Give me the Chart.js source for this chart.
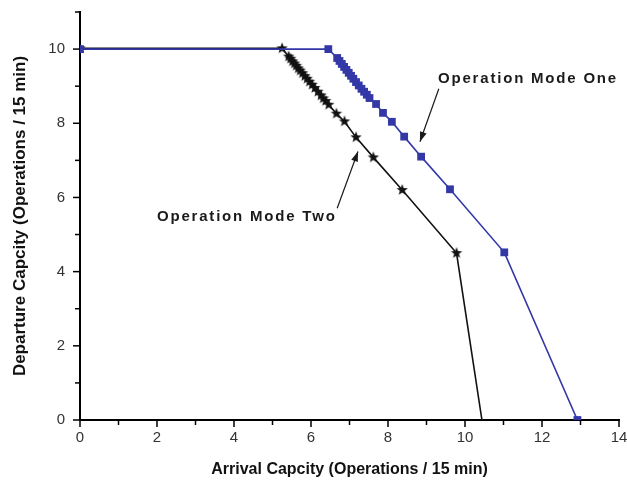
<!DOCTYPE html>
<html>
<head>
<meta charset="utf-8">
<script src="https://cdn.jsdelivr.net/npm/chart.js@4/dist/chart.umd.min.js"></script>
<style>
  html, body { margin: 0; padding: 0; background: #fff; }
  #wrap { width: 627px; height: 484px; }
</style>
</head>
<body>
<div id="wrap"><canvas id="chart-area" width="627" height="484"></canvas></div>
<script>
// Operation Mode One (blue squares)
var modeOneX = [0, 6.45, 6.68, 6.74, 6.80, 6.86, 6.92, 6.98, 7.04, 7.10, 7.17, 7.24, 7.31, 7.38, 7.45, 7.52, 7.69, 7.87, 8.10, 8.42, 8.86, 9.61, 11.02, 12.92];
var modeOneY = [10, 10, 9.76, 9.68, 9.60, 9.52, 9.44, 9.36, 9.28, 9.20, 9.11, 9.02, 8.93, 8.85, 8.77, 8.68, 8.52, 8.28, 8.04, 7.64, 7.10, 6.22, 4.52, 0];

// Operation Mode Two (black stars)
var modeTwoX = [0, 5.25, 5.42, 5.47, 5.52, 5.57, 5.62, 5.67, 5.72, 5.78, 5.84, 5.90, 5.96, 6.03, 6.10, 6.18, 6.26, 6.32, 6.38, 6.46, 6.66, 6.87, 7.17, 7.62, 8.37, 9.78, 10.44];
var modeTwoY = [10.02, 10.02, 9.80, 9.74, 9.67, 9.61, 9.55, 9.48, 9.42, 9.35, 9.27, 9.20, 9.12, 9.04, 8.95, 8.85, 8.75, 8.67, 8.60, 8.50, 8.26, 8.05, 7.62, 7.08, 6.20, 4.50, 0];

var xTickLabels = [0, 2, 4, 6, 8, 10, 12, 14];
var yTickLabels = [0, 2, 4, 6, 8, 10];

// callouts: [text, textX, textY, arrowFromX, arrowFromY, arrowToX, arrowToY]
var callouts = [
  ['Operation Mode One', 9.3, 9.2, 9.32, 8.93, 8.83, 7.50],
  ['Operation Mode Two', 2.0, 5.47, 6.68, 5.71, 7.22, 7.24]
];

function pts(xs, ys) {
  return xs.map(function (x, i) { return { x: x, y: ys[i] }; });
}

// filled five point star for the marker
function makeStar(r, color) {
  var c = document.createElement('canvas');
  var s = Math.ceil(r * 2 + 2);
  c.width = s; c.height = s;
  var g = c.getContext('2d');
  g.fillStyle = color;
  g.beginPath();
  for (var i = 0; i < 10; i++) {
    var rad = i % 2 === 0 ? r : r * 0.42;
    var a = -Math.PI / 2 + i * Math.PI / 5;
    var px = s / 2 + rad * Math.cos(a), py = s / 2 + rad * Math.sin(a);
    if (i === 0) g.moveTo(px, py); else g.lineTo(px, py);
  }
  g.closePath();
  g.fill();
  return c;
}
var star = makeStar(6, '#111');

var tickMarks = {
  id: 'tickMarks',
  afterDraw: function (chart) {
    var ctx = chart.ctx, xs = chart.scales.x, ys = chart.scales.y;
    var ca = chart.chartArea;
    ctx.save();
    ctx.strokeStyle = '#000';
    ctx.lineWidth = 1.5;
    for (var v = 0; v <= 14; v++) {
      var px = xs.getPixelForValue(v);
      var len = v % 2 === 0 ? 7 : 5;
      ctx.beginPath(); ctx.moveTo(px, ca.bottom); ctx.lineTo(px, ca.bottom + len); ctx.stroke();
    }
    for (var w = 0; w <= 11; w++) {
      var py = ys.getPixelForValue(w);
      var ln = w % 2 === 0 ? 7 : 5;
      ctx.beginPath(); ctx.moveTo(ca.left, py); ctx.lineTo(ca.left - ln, py); ctx.stroke();
    }

    // callouts
    ctx.fillStyle = '#1a1a1a';
    ctx.strokeStyle = '#1a1a1a';
    ctx.font = 'bold 15px "Liberation Sans", Arial, sans-serif';
    ctx.letterSpacing = '1.8px';
    ctx.textBaseline = 'middle';
    callouts.forEach(function (c) {
      ctx.fillText(c[0], xs.getPixelForValue(c[1]), ys.getPixelForValue(c[2]));
      var x1 = xs.getPixelForValue(c[3]), y1 = ys.getPixelForValue(c[4]);
      var x2 = xs.getPixelForValue(c[5]), y2 = ys.getPixelForValue(c[6]);
      ctx.lineWidth = 1.2;
      ctx.beginPath(); ctx.moveTo(x1, y1); ctx.lineTo(x2, y2); ctx.stroke();
      var a = Math.atan2(y2 - y1, x2 - x1), hl = 10, hw = 3.5;
      ctx.beginPath();
      ctx.moveTo(x2, y2);
      ctx.lineTo(x2 - hl * Math.cos(a) + hw * Math.sin(a), y2 - hl * Math.sin(a) - hw * Math.cos(a));
      ctx.lineTo(x2 - hl * Math.cos(a) - hw * Math.sin(a), y2 - hl * Math.sin(a) + hw * Math.cos(a));
      ctx.closePath();
      ctx.fill();
    });
    ctx.restore();
  }
};

var twoRadius = modeTwoX.map(function (v, i) { return i === modeTwoX.length - 1 ? 0 : 5; });

var config = {
  type: 'line',
  data: {
    datasets: [{
      label: 'Operation Mode One',
      data: pts(modeOneX, modeOneY),
      borderColor: '#3338a6',
      backgroundColor: '#3338a6',
      borderWidth: 1.6,
      pointStyle: 'rect',
      pointRadius: 5.5,
      pointBorderWidth: 0,
      tension: 0
    }, {
      label: 'Operation Mode Two',
      data: pts(modeTwoX, modeTwoY),
      borderColor: '#111',
      backgroundColor: '#111',
      borderWidth: 1.6,
      pointStyle: star,
      pointRadius: twoRadius,
      tension: 0
    }]
  },
  options: {
    responsive: false,
    animation: false,
    layout: { padding: { left: 0, top: 12, right: 8, bottom: 0 } },
    plugins: { legend: { display: false }, tooltip: { enabled: false } },
    scales: {
      x: {
        type: 'linear', min: 0, max: 14,
        afterFit: function (s) { s.height = 64; s.paddingLeft = 0; s.paddingRight = 0; },
        afterBuildTicks: function (s) { s.ticks = xTickLabels.map(function (v) { return { value: v }; }); },
        grid: { display: true, drawOnChartArea: false, drawTicks: false },
        border: { display: true, color: '#000', width: 2 },
        ticks: { padding: 9, color: '#333', font: { size: 15, family: '"Liberation Sans", Arial, sans-serif' } },
        title: {
          display: true, text: 'Arrival Capcity (Operations / 15 min)', color: '#111',
          font: { size: 16, weight: 'bold', family: '"Liberation Sans", Arial, sans-serif' },
          padding: { top: 0, bottom: 5 }
        }
      },
      y: {
        type: 'linear', min: 0, max: 11,
        afterFit: function (s) { s.width = 80; s.paddingTop = 0; s.paddingBottom = 0; },
        afterBuildTicks: function (s) { s.ticks = yTickLabels.map(function (v) { return { value: v }; }); },
        grid: { display: true, drawOnChartArea: false, drawTicks: false },
        border: { display: true, color: '#000', width: 2 },
        ticks: { padding: 15, color: '#333', font: { size: 15, family: '"Liberation Sans", Arial, sans-serif' } },
        title: {
          display: true, text: 'Departure Capcity (Operations / 15 min)', color: '#111',
          font: { size: 17, weight: 'bold', family: '"Liberation Sans", Arial, sans-serif' },
          padding: { top: 10, bottom: 0 }
        }
      }
    }
  },
  plugins: [tickMarks]
};

new Chart(document.getElementById('chart-area').getContext('2d'), config);
</script>
</body>
</html>
